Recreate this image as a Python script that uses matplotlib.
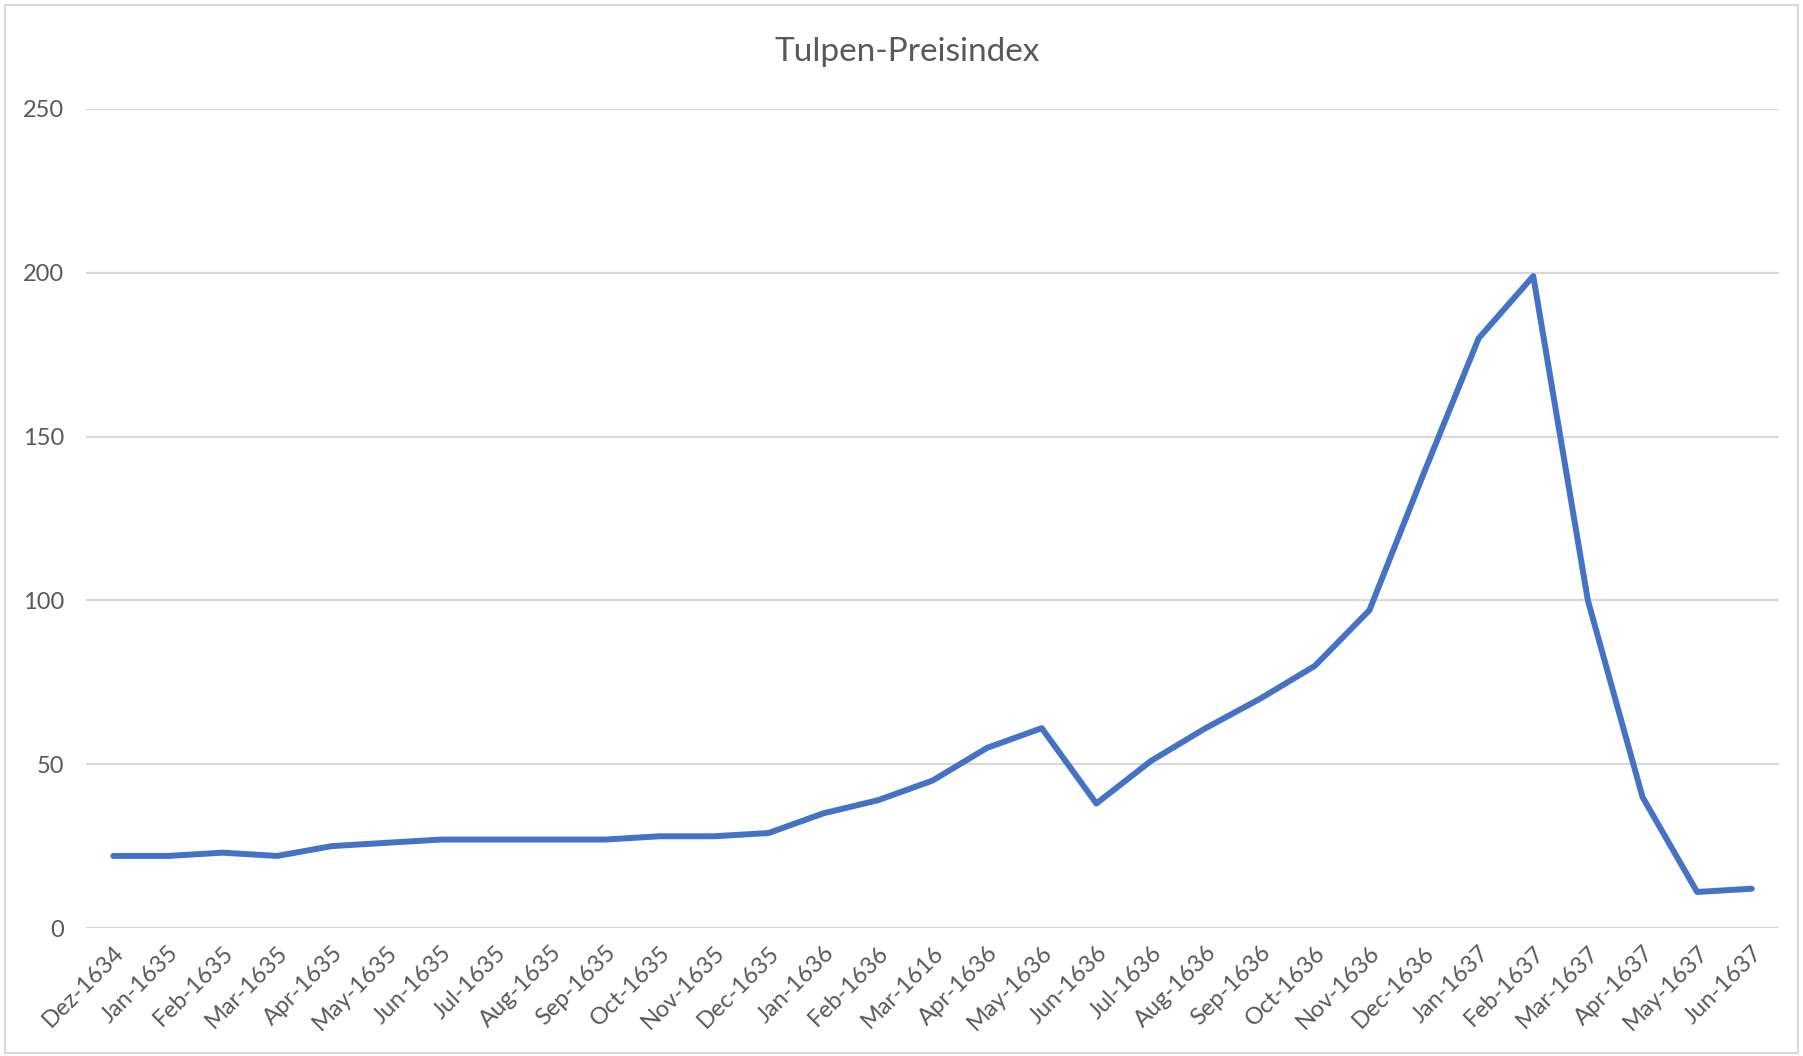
import matplotlib
matplotlib.use('Agg')
import matplotlib.pyplot as plt
from matplotlib.patches import Rectangle

# Chart data
months = ['Dez-1634', 'Jan-1635', 'Feb-1635', 'Mar-1635', 'Apr-1635', 'May-1635',
          'Jun-1635', 'Jul-1635', 'Aug-1635', 'Sep-1635', 'Oct-1635', 'Nov-1635',
          'Dec-1635', 'Jan-1636', 'Feb-1636', 'Mar-1616', 'Apr-1636', 'May-1636',
          'Jun-1636', 'Jul-1636', 'Aug-1636', 'Sep-1636', 'Oct-1636', 'Nov-1636',
          'Dec-1636', 'Jan-1637', 'Feb-1637', 'Mar-1637', 'Apr-1637', 'May-1637',
          'Jun-1637']
price_index = [22, 22, 23, 22, 25, 26, 27, 27, 27, 27, 28, 28, 29, 35, 39, 45, 55, 61,
               38, 51, 61, 70, 80, 97, 139, 180, 199, 100, 40, 11, 12]
y_ticks = [0, 50, 100, 150, 200, 250]

TEXT_COLOR = '#595959'
GRID_COLOR = '#D9D9D9'
LINE_COLOR = '#4472C4'

plt.rcParams['font.family'] = ['Lato', 'DejaVu Sans']

fig = plt.figure(figsize=(18.03, 10.56), dpi=100)
ax = fig.add_axes([0.0477, 0.1212, 0.9390, 0.7756])

x = list(range(len(months)))
ax.plot(x, price_index, color=LINE_COLOR, linewidth=4.3, solid_joinstyle='round',
        solid_capstyle='round', zorder=3)

ax.set_xlim(-0.5, len(months) - 0.5)
ax.set_ylim(0, 250)
ax.set_yticks(y_ticks)
ax.set_xticks(x)
ax.set_xticklabels(months, rotation=45, ha='right', rotation_mode='anchor')

ax.grid(axis='y', color=GRID_COLOR, linewidth=1.6)
ax.set_axisbelow(True)
for spine in ax.spines.values():
    spine.set_visible(False)
ax.tick_params(axis='both', length=0, colors=TEXT_COLOR, labelsize=17)
ax.tick_params(axis='y', pad=16)
ax.tick_params(axis='x', pad=10)

fig.text(0.503, 0.951, 'Tulpen-Preisindex', ha='center', va='center',
         fontsize=24, color=TEXT_COLOR)

# Light outer frame like the chart area border
fig.patches.append(Rectangle((0.003, 0.003), 0.994, 0.992, transform=fig.transFigure,
                             fill=False, edgecolor=GRID_COLOR, linewidth=1.5))

fig.savefig('out.png', dpi=100, facecolor='white')
plt.close(fig)
